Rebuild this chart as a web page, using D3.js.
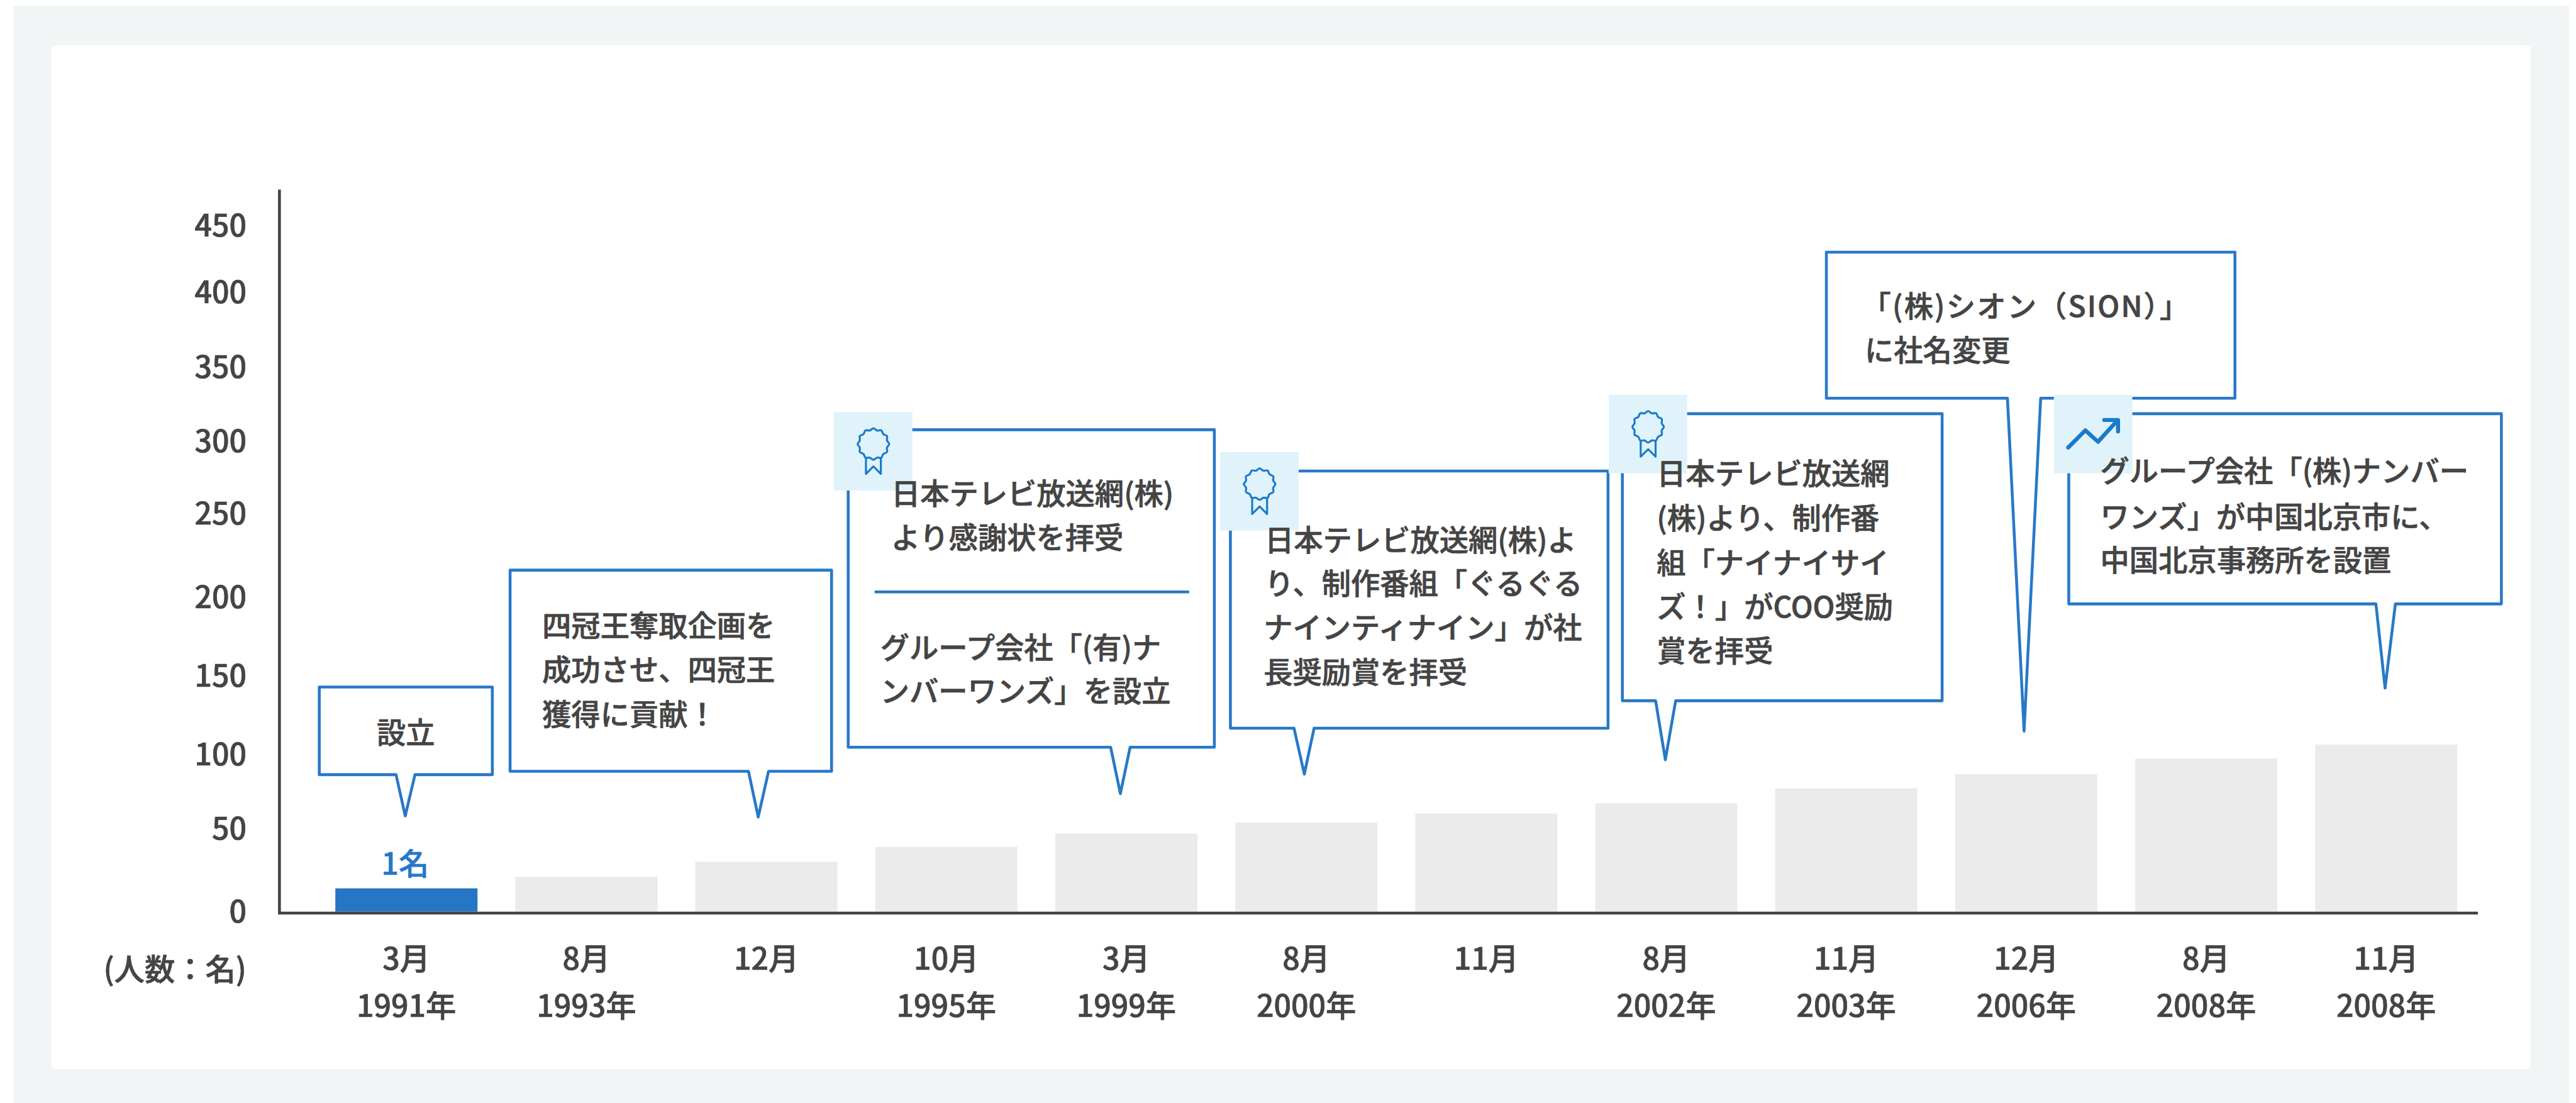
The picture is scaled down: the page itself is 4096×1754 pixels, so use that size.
<!DOCTYPE html>
<html lang="ja">
<head>
<meta charset="utf-8">
<title>chart</title>
<script src="https://cdn.jsdelivr.net/npm/d3@7"></script>
<style>
  html, body { margin: 0; padding: 0; background: #fff; overflow: hidden; }
  svg { display: block; }
  text { font-family: "Noto Sans CJK JP", "Noto Sans", sans-serif; font-weight: 500; fill: #444; stroke: #444; stroke-width: 0.8px; }
</style>
</head>
<body>
<div id="chart"></div>
<script>
const months = ['3月', '8月', '12月', '10月', '3月', '8月', '11月', '8月', '11月', '12月', '8月', '11月']
const years = ['1991年', '1993年', '', '1995年', '1999年', '2000年', '', '2002年', '2003年', '2006年', '2008年', '2008年']
const headcount = [14, 21, 30, 39, 47, 54, 60, 67, 77, 86.5, 97, 106]
const yTicks = [0, 50, 100, 150, 200, 250, 300, 350, 400, 450]
const firstBarLabel = '1名'
const unitLabel = '(人数：名)'

const calloutText = [
  ['設立'],
  ['四冠王奪取企画を', '成功させ、四冠王', '獲得に貢献！'],
  ['日本テレビ放送網(株)', 'より感謝状を拝受', 'グループ会社「(有)ナ', 'ンバーワンズ」を設立'],
  ['日本テレビ放送網(株)よ', 'り、制作番組「ぐるぐる', 'ナインティナイン」が社', '長奨励賞を拝受'],
  ['日本テレビ放送網', '(株)より、制作番', '組「ナイナイサイ', 'ズ！」がCOO奨励', '賞を拝受'],
  ['「(株)シオン（SION）」', 'に社名変更'],
  ['グループ会社「(株)ナンバー', 'ワンズ」が中国北京市に、', '中国北京事務所を設置'],
]

// reference is 4495x1925, the viewBox scales it to the window
const W = 4495
const H = 1925
const blue = '#2878c8'
const badgeFill = '#e0f3fb'
const iconBlue = '#1a7bc9'

// tick labels in the picture are not evenly spaced
const yTickPos = [1591, 1446, 1316, 1179, 1042, 896, 770, 640, 509, 393]

// box: x0, y0, x1, y1; tail: base left, base right, tip x, tip y
const calloutLayout = [
  { box: [557, 1199, 859, 1352], tail: [691, 724, 707, 1424], textX: [708], textY: [1279], anchor: 'middle' },
  { box: [890, 995, 1451, 1346], tail: [1306, 1341, 1323, 1426], textX: [946, 946, 946], textY: [1092, 1169, 1247] },
  { box: [1480, 750, 2119, 1304], tail: [1938, 1972, 1955, 1385], textX: [1555, 1555, 1536, 1536], textY: [862, 939, 1131, 1207], badge: [1455, 719], icon: 'award' },
  { box: [2147, 822, 2806, 1271], tail: [2258, 2293, 2276, 1351], textX: [2207, 2207, 2205, 2205], textY: [943, 1019, 1096, 1174], badge: [2129, 789], icon: 'award' },
  { box: [2831, 722, 3389, 1223], tail: [2889, 2924, 2906, 1326], textX: [2891, 2891, 2891, 2891, 2891], textY: [827, 905, 983, 1059, 1136], badge: [2807, 689], icon: 'award' },
  { box: [3187, 440, 3900, 695], tail: [3503, 3561, 3532, 1276], textX: [3249, 3254], textY: [535, 612], spacing: [2.4, 0] },
  { box: [3610, 722, 4365, 1054], tail: [4146, 4180, 4162, 1201], textX: [3665, 3665, 3665], textY: [822, 902, 978], badge: [3584, 689], icon: 'trend' },
]

function setupChartArea() {
  const svg = d3
    .select('#chart')
    .append('svg')
    .attr('width', 4096)
    .attr('height', 1754)
    .attr('viewBox', `0 0 ${W} ${H}`)

  svg.append('rect').attr('x', 23).attr('y', 10).attr('width', 4460).attr('height', H - 10).attr('fill', '#f1f5f6')
  svg.append('rect').attr('x', 90).attr('y', 79).attr('width', 4326).attr('height', 1787).attr('rx', 8).attr('fill', '#fff')
  return svg
}

function renderBars({ svg, xScale, yScale }) {
  svg
    .append('g')
    .selectAll('rect')
    .data(headcount)
    .join('rect')
    .attr('x', (d, i) => xScale(i))
    .attr('y', d => yScale(d))
    .attr('width', xScale.bandwidth())
    .attr('height', d => yScale(0) - yScale(d))
    .attr('fill', (d, i) => (i === 0 ? '#2576c4' : '#ebebeb'))

  svg
    .append('text')
    .attr('x', xScale(0) + xScale.bandwidth() / 2 - 2)
    .attr('y', 1507)
    .attr('dy', '0.36em')
    .attr('text-anchor', 'middle')
    .style('font-size', '53px')
    .style('fill', blue)
    .style('stroke', blue)
    .text(firstBarLabel)
}

function renderAxes({ svg, xScale, yScale }) {
  const yAxis = d3.axisLeft(yScale).tickValues(yTicks).tickSize(0).tickPadding(0)
  const yAxisG = svg.append('g').attr('transform', 'translate(430,1)').call(yAxis)
  yAxisG.select('.domain').remove()
  yAxisG.selectAll('text').attr('dy', '0.34em').style('font-size', '53px').style('font-family', null)

  const xLabels = svg
    .append('g')
    .selectAll('g')
    .data(months)
    .join('g')
    .attr('transform', (d, i) => `translate(${xScale(i) + xScale.bandwidth() / 2},0)`)

  xLabels
    .append('text')
    .attr('y', 1673)
    .attr('dy', '0.36em')
    .attr('text-anchor', 'middle')
    .style('font-size', '53px')
    .text(d => d)

  xLabels
    .append('text')
    .attr('y', 1756)
    .attr('dy', '0.36em')
    .attr('text-anchor', 'middle')
    .style('font-size', '53px')
    .text((d, i) => years[i])

  svg
    .append('text')
    .attr('x', 430)
    .attr('y', 1692)
    .attr('dy', '0.36em')
    .attr('text-anchor', 'end')
    .style('font-size', '53px')
    .text(unitLabel)

  svg
    .append('path')
    .attr('d', 'M487.5,331V1593.5H4324')
    .attr('fill', 'none')
    .attr('stroke', '#444')
    .attr('stroke-width', 5)
}

function calloutPath({ box: [x0, y0, x1, y1], tail: [bl, br, tx, ty] }) {
  return `M${x0},${y0}H${x1}V${y1}H${br}L${tx},${ty}L${bl},${y1}H${x0}Z`
}

function renderAwardIcon(g, cx, cy) {
  // scalloped rosette, 12 bumps around the circle
  const bumps = d3.range(24).map(i => {
    const a = (i / 24) * 2 * Math.PI
    const r = i % 2 ? 24.5 : 27.5
    return [cx + r * Math.sin(a), cy - r * Math.cos(a)]
  })
  g.append('path')
    .attr('d', d3.line().curve(d3.curveCardinalClosed)(bumps))
    .attr('fill', 'none')
    .attr('stroke', iconBlue)
    .attr('stroke-width', 3.5)
  g.append('path')
    .attr('d', `M${cx - 13},${cy + 23}V${cy + 52}L${cx},${cy + 39}L${cx + 13},${cy + 52}V${cy + 23}`)
    .attr('fill', 'none')
    .attr('stroke', iconBlue)
    .attr('stroke-width', 3.5)
    .attr('stroke-linejoin', 'round')
}

function renderTrendIcon(g, bx, by) {
  g.append('path')
    .attr('d', `M${bx + 25},${by + 92}L${bx + 55},${by + 62}L${bx + 77},${by + 82}L${bx + 110},${by + 46}`)
    .attr('fill', 'none')
    .attr('stroke', iconBlue)
    .attr('stroke-width', 7)
    .attr('stroke-linecap', 'round')
    .attr('stroke-linejoin', 'round')
  g.append('path')
    .attr('d', `M${bx + 88},${by + 44}H${bx + 112}V${by + 64}`)
    .attr('fill', 'none')
    .attr('stroke', iconBlue)
    .attr('stroke-width', 7)
    .attr('stroke-linecap', 'round')
    .attr('stroke-linejoin', 'round')
}

function renderCallouts({ svg }) {
  const boxes = svg.append('g')
  boxes
    .selectAll('path')
    .data(calloutLayout)
    .join('path')
    .attr('d', calloutPath)
    .attr('fill', '#fff')
    .attr('stroke', blue)
    .attr('stroke-width', 5)
    .attr('stroke-linejoin', 'round')

  // divider in the third callout
  svg
    .append('line')
    .attr('x1', 1526)
    .attr('x2', 2075)
    .attr('y1', 1033)
    .attr('y2', 1033)
    .attr('stroke', blue)
    .attr('stroke-width', 5)

  const badges = svg.append('g')
  calloutLayout
    .filter(d => d.badge)
    .forEach(d => {
      const [bx, by] = d.badge
      const g = badges.append('g')
      g.append('rect').attr('x', bx).attr('y', by).attr('width', 137).attr('height', 137).attr('fill', badgeFill)
      if (d.icon === 'award') renderAwardIcon(g, bx + 69, by + 56)
      else renderTrendIcon(g, bx, by)
    })

  const textGroups = svg
    .append('g')
    .selectAll('g')
    .data(calloutLayout)
    .join('g')

  textGroups
    .selectAll('text')
    .data((d, i) =>
      calloutText[i].map((line, j) => ({
        line,
        x: d.textX[j],
        y: d.textY[j],
        anchor: d.anchor,
        spacing: d.spacing ? d.spacing[j] : 0,
      })),
    )
    .join('text')
    .attr('x', d => d.x)
    .attr('y', d => d.y)
    .attr('dy', '0.36em')
    .attr('text-anchor', d => d.anchor || 'start')
    .style('font-size', '50.8px')
    .style('letter-spacing', d => `${d.spacing}px`)
    .text(d => d.line)
}

function renderChart() {
  const svg = setupChartArea()

  const xScale = d3
    .scaleBand()
    .domain(d3.range(months.length))
    .range([585, 4288])
    .paddingInner(0.21)
    .paddingOuter(0)

  const yScale = d3.scaleLinear().domain(yTicks).range(yTickPos)

  renderBars({ svg, xScale, yScale })
  renderAxes({ svg, xScale, yScale })
  renderCallouts({ svg })
}

renderChart()
</script>
</body>
</html>
